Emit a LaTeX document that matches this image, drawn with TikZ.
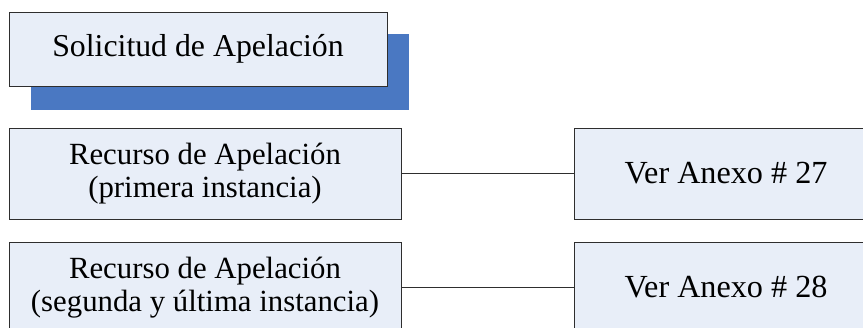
\documentclass[tikz,border=0pt]{standalone}
\usepackage{fontspec}
\setmainfont{Liberation Serif}
\definecolor{boxfill}{HTML}{E8EEF8}
\definecolor{shadowblue}{HTML}{4A78C2}
\definecolor{boxline}{HTML}{2E2E2E}
\begin{document}
\begin{tikzpicture}[x=1pt,y=-1pt,
  box/.style={draw=boxline, fill=boxfill, line width=0.9pt, rectangle, inner sep=0pt,
    align=center, font=\fontsize{30.8}{33}\selectfont},
  bigtext/.style={font=\fontsize{31.8}{34}\selectfont},
  link/.style={draw=boxline, line width=0.8pt}]
\useasboundingbox (0,0) rectangle (863,327);
% shadow of top box
\fill[shadowblue] (31,34) rectangle (409,110);
\node[box, bigtext, minimum width=378pt, minimum height=74pt] (sol) at (198,49) {Solicitud de Apelación};
\node[box, minimum width=392pt, minimum height=91pt] (r1) at (205,173.5) {Recurso de Apelación\\(primera instancia)};
\node[box, minimum width=392pt, minimum height=91pt] (r2) at (205,287.5) {Recurso de Apelación\\(segunda y última instancia)};
\node[box, minimum width=310pt, minimum height=91pt] (a1) at (729,173.5) {};
\node[box, minimum width=310pt, minimum height=91pt] (a2) at (729,287.5) {};
\node[bigtext, font=\fontsize{32.2}{34}\selectfont] (t1) at (726,173.5) {Ver Anexo \# 27};
\node[bigtext, font=\fontsize{32.2}{34}\selectfont] (t2) at (726,287.5) {Ver Anexo \# 28};
\draw[link] (r1.east) -- (a1.west);
\draw[link] (r2.east) -- (a2.west);
\end{tikzpicture}
\end{document}
